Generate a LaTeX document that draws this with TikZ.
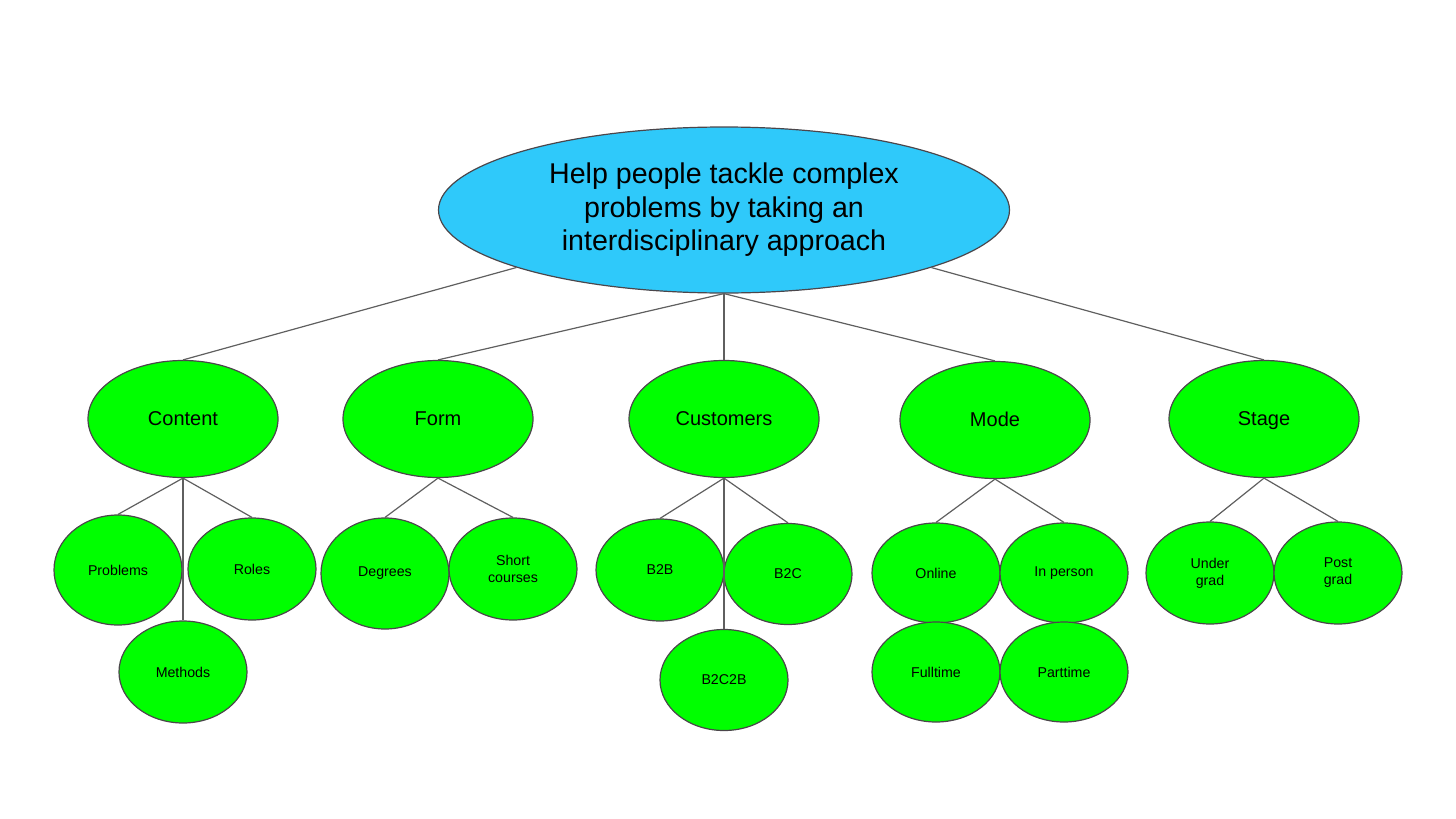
\documentclass[tikz,border=0pt]{standalone}
\usepackage{fontspec}
\setmainfont{Liberation Sans}
\usetikzlibrary{shapes.geometric}
\usetikzlibrary{positioning}
\definecolor{rootblue}{RGB}{47,201,250}
\definecolor{leafgreen}{RGB}{0,255,0}
\definecolor{linegray}{RGB}{95,95,95}
\definecolor{rimgray}{RGB}{75,70,75}

\begin{document}
\begin{tikzpicture}[x=0.5pt, y=-0.5pt,
    goal/.style={ellipse, draw=rimgray, line width=0.6pt, fill=rootblue,
      minimum width=285.5pt, minimum height=83pt, inner sep=0pt, align=center,
      font=\fontsize{14.3}{16.8}\selectfont},
    area/.style={ellipse, draw=rimgray, line width=0.6pt, fill=leafgreen,
      minimum width=95pt, minimum height=58.5pt, inner sep=0pt,
      text height=1.5ex, text depth=.25ex,
      font=\fontsize{10}{12}\selectfont},
    leaf/.style={ellipse, draw=rimgray, line width=0.6pt, fill=leafgreen,
      minimum width=64pt, minimum height=51pt, inner sep=0pt, align=center,
      font=\fontsize{7.1}{8.5}\selectfont},
    link/.style={draw=linegray, line width=0.6pt}]
  \useasboundingbox (0,0) rectangle (1456,819);

  \node[goal] (root) at (724,210) {Help people tackle complex\\problems by taking an\\interdisciplinary approach};

  \node[area] (content) at (183,419) {Content};
  \node[area] (form) at (438,419) {Form};
  \node[area] (customers) at (724,419) {Customers};
  \node[area] (mode) at (995,420) {Mode};
  \node[area] (stage) at (1264,419) {Stage};

  \draw[link] (root) -- (content.north);
  \draw[link] (root.south) -- (form.north);
  \draw[link] (root.south) -- (customers.north);
  \draw[link] (root.south) -- (mode.north);
  \draw[link] (root) -- (stage.north);

  % content
  \node[leaf, minimum height=55pt] (problems) at (118,570) {Problems};
  \node[leaf] (roles) at (252,569) {Roles};
  \node[leaf] (methods) at (183,672) {Methods};
  \draw[link] (content.south) -- (problems.north);
  \draw[link] (content.south) -- (roles.north);
  \draw[link] (content.south) -- (methods.north);

  % form
  \node[leaf, minimum height=55.5pt] (degrees) at (385,573.5) {Degrees};
  \node[leaf] (short) at (513,569) {Short\\courses};
  \draw[link] (form.south) -- (degrees.north);
  \draw[link] (form.south) -- (short.north);

  % customers
  \node[leaf] (btob) at (660,570) {B2B};
  \node[leaf, minimum height=50.5pt] (btoc) at (788,574) {B2C};
  \node[leaf, minimum height=50.5pt] (btocb) at (724,680) {B2C2B};
  \draw[link] (customers.south) -- (btob.north);
  \draw[link] (customers.south) -- (btoc.north);
  \draw[link] (customers.south) -- (btocb.north);

  % mode
  \node[leaf, minimum height=50pt] (online) at (936,573) {Online};
  \node[leaf, minimum height=50pt] (inperson) at (1064,573) {In person};
  \node[leaf, minimum height=50pt] (fulltime) at (936,672) {Fulltime};
  \node[leaf, minimum height=50pt] (parttime) at (1064,672) {Parttime};
  \draw[link] (mode.south) -- (online.north);
  \draw[link] (mode.south) -- (inperson.north);

  % stage
  \node[leaf] (under) at (1210,573) {Under\\grad};
  \node[leaf] (post) at (1338,573) {Post\\grad};
  \draw[link] (stage.south) -- (under.north);
  \draw[link] (stage.south) -- (post.north);
\end{tikzpicture}
\end{document}
